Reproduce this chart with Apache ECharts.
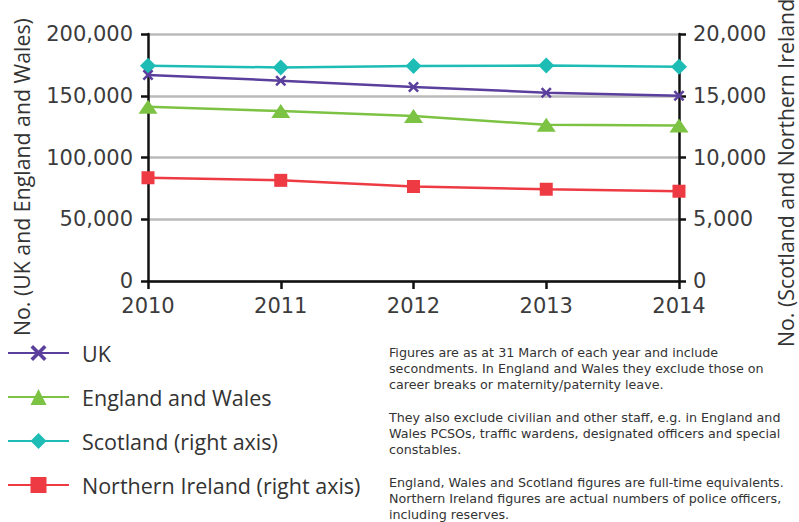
<!DOCTYPE html>
<html>
<head>
<meta charset="utf-8">
<script src="https://cdn.jsdelivr.net/npm/echarts@6/dist/echarts.min.js"></script>
<style>
  html, body { margin: 0; padding: 0; background: #ffffff; }
  #chart { width: 799px; height: 522px; }
  /* old-style figures where the font offers them */
  #chart text {
    font-variant-numeric: oldstyle-nums !important;
    font-feature-settings: "onum" 1 !important;
  }
</style>
</head>
<body>
<div id="chart"></div>
<script>
// Police officer numbers, as at 31 March
const years = ['2010', '2011', '2012', '2013', '2014'];
const ukOfficers = [166800, 162200, 157100, 152500, 150000];
const englandWalesOfficers = [141000, 137600, 133600, 126500, 126000];
const scotlandOfficers = [17430, 17290, 17410, 17450, 17350];       // right axis
const northernIrelandOfficers = [8360, 8150, 7650, 7430, 7270];     // right axis

const leftAxisMax = 200000, leftAxisStep = 50000;
const rightAxisMax = 20000, rightAxisStep = 5000;

const notes = [
  'Figures are as at 31 March of each year and include\nsecondments. In England and Wales they exclude those on\ncareer breaks or maternity/paternity leave.',
  'They also exclude civilian and other staff, e.g. in England and\nWales PCSOs, traffic wardens, designated officers and special\nconstables.',
  'England, Wales and Scotland figures are full-time equivalents.\nNorthern Ireland figures are actual numbers of police officers,\nincluding reserves.'
];

const FONT = '"Open Sans", "Noto Sans", sans-serif';
const NUM_FONT = '"DejaVu Sans", sans-serif';
const NOTE_FONT = '"DejaVu Sans", sans-serif';
const TEXT = '#333333';
const crossPath = 'path://M1.6,0 L5,3.4 L8.4,0 L10,1.6 L6.6,5 L10,8.4 L8.4,10 L5,6.6 L1.6,10 L0,8.4 L3.4,5 L0,1.6 Z';

const fmt = v => v.toLocaleString('en-GB');

const chart = echarts.init(document.getElementById('chart'), null, { renderer: 'svg' });

function lineSeries(name, data, color, symbol, size, axisIndex) {
  return {
    name, type: 'line', data, yAxisIndex: axisIndex,
    symbol, symbolSize: size, showSymbol: true,
    lineStyle: { color, width: 2.5 },
    itemStyle: { color },
    emphasis: { disabled: true },
    animation: false
  };
}

const axisLabelStyle = { color: '#3c3c3c', fontFamily: NUM_FONT, fontSize: 21 };

function noteText(text, y) {
  return {
    type: 'text', x: 389, y,
    style: { text, fill: TEXT, font: '12.7px ' + NOTE_FONT, lineHeight: 16.3, align: 'left', verticalAlign: 'top' }
  };
}

chart.setOption({
  backgroundColor: '#ffffff',
  animation: false,
  grid: { left: 148, right: 120, top: 34, bottom: 241, containLabel: false },
  xAxis: {
    type: 'category', data: years, boundaryGap: false,
    axisLine: { lineStyle: { color: '#111', width: 2.5 } },
    axisTick: { show: true, length: 8, lineStyle: { color: '#111', width: 2.5 } },
    axisLabel: Object.assign({ margin: 14 }, axisLabelStyle),
    splitLine: { show: false }
  },
  yAxis: [
    {
      type: 'value', min: 0, max: leftAxisMax, interval: leftAxisStep, position: 'left',
      axisLine: { show: true, lineStyle: { color: '#111', width: 2.5 } },
      axisTick: { show: true, length: 7, lineStyle: { color: '#111', width: 2.5 } },
      axisLabel: Object.assign({ margin: 15, formatter: fmt }, axisLabelStyle),
      splitLine: { show: true, lineStyle: { color: '#bababa', width: 2.5 } }
    },
    {
      type: 'value', min: 0, max: rightAxisMax, interval: rightAxisStep, position: 'right',
      axisLine: { show: true, lineStyle: { color: '#111', width: 2.5 } },
      axisTick: { show: true, length: 7, lineStyle: { color: '#111', width: 2.5 } },
      axisLabel: Object.assign({ margin: 14, formatter: fmt }, axisLabelStyle),
      splitLine: { show: false }
    }
  ],
  legend: {
    orient: 'vertical', left: 2, top: 337,
    itemWidth: 61, itemHeight: 20, itemGap: 22,
    selectedMode: false,
    textStyle: { color: TEXT, fontFamily: FONT, fontSize: 21.5, padding: [0, 0, 0, 8] },
    data: ['UK', 'England and Wales', 'Scotland (right axis)', 'Northern Ireland (right axis)']
  },
  series: [
    lineSeries('Scotland (right axis)', scotlandOfficers, '#1dbdb6', 'diamond', 16, 1),
    lineSeries('Northern Ireland (right axis)', northernIrelandOfficers, '#ee3a43', 'rect', 13, 1),
    lineSeries('England and Wales', englandWalesOfficers, '#7cc243', 'triangle', [19, 14], 0),
    lineSeries('UK', ukOfficers, '#5b3f9c', crossPath, 11, 0)
  ],
  graphic: [
    {
      type: 'text', x: 21, y: 336, rotation: Math.PI / 2,
      style: { text: 'No. (UK and England and Wales)', fill: TEXT, font: '21.3px ' + FONT, align: 'left', verticalAlign: 'middle' }
    },
    {
      type: 'text', x: 785, y: 347, rotation: Math.PI / 2,
      style: { text: 'No. (Scotland and Northern Ireland)', fill: TEXT, font: '21.3px ' + FONT, align: 'left', verticalAlign: 'middle' }
    },
    noteText(notes[0], 344),
    noteText(notes[1], 409),
    noteText(notes[2], 474)
  ]
});
</script>
</body>
</html>
